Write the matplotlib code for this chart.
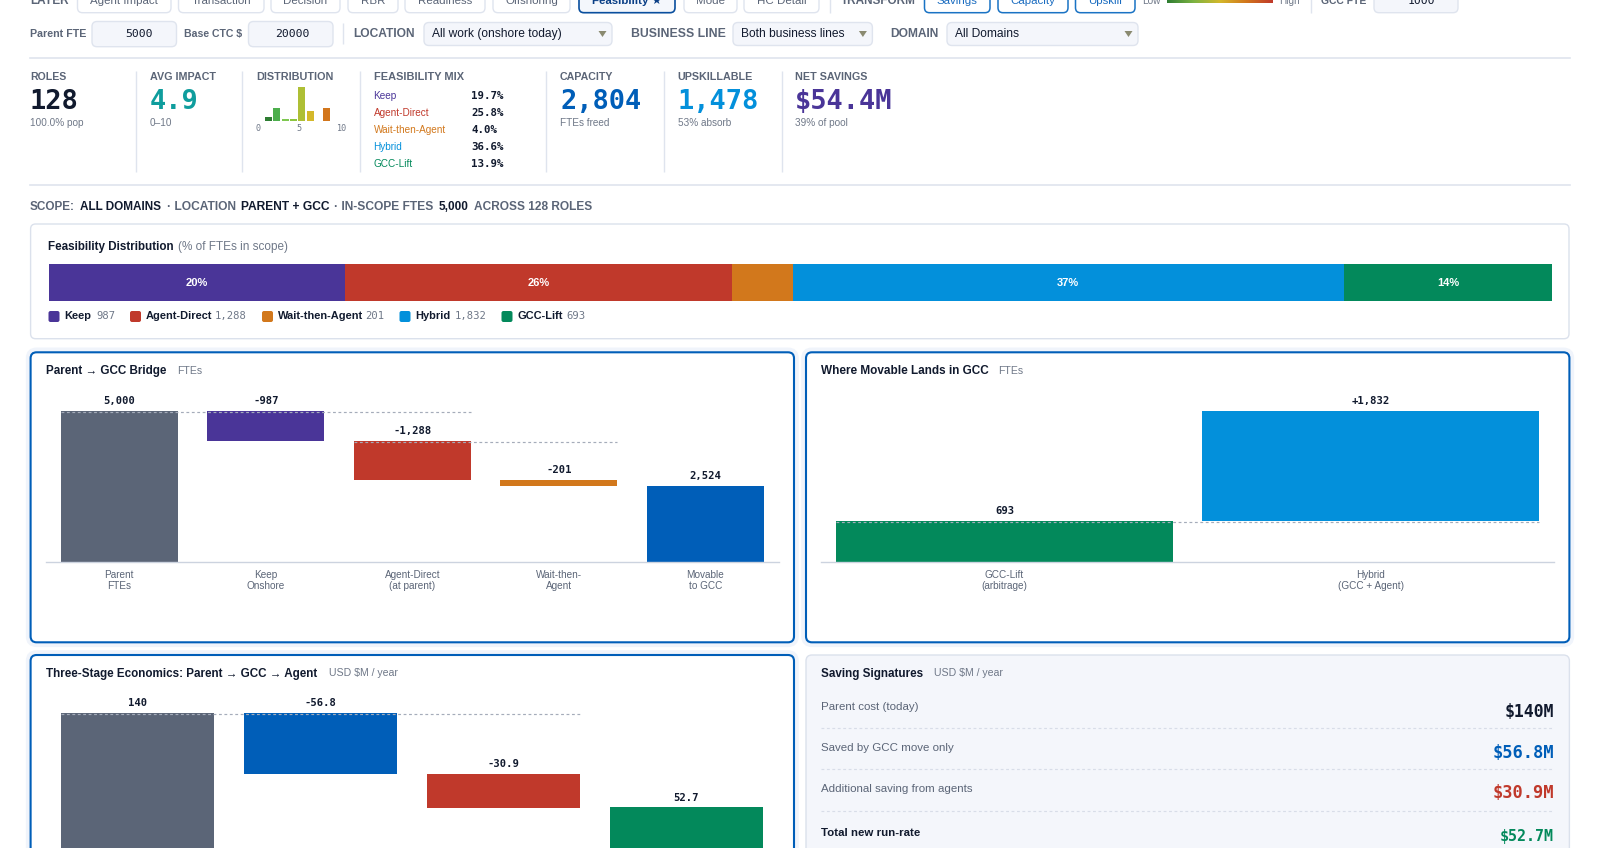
import numpy as np
import matplotlib
matplotlib.use('Agg')
import matplotlib.pyplot as plt
from matplotlib.patches import FancyBboxPatch, Polygon
from matplotlib.colors import LinearSegmentedColormap
from matplotlib.transforms import ScaledTranslation

# ---- data ----
layer_tabs = ['Agent Impact', 'Transaction', 'Decision', 'RBR', 'Readiness', 'Offshoring', 'Feasibility ★', 'Mode', 'HC Detail']
transform_tabs = ['Savings', 'Capacity', 'Upskill']
feas_names = ['Keep', 'Agent-Direct', 'Wait-then-Agent', 'Hybrid', 'GCC-Lift']
feas_ftes = [987, 1288, 201, 1832, 693]
feas_mix = ['19.7%', '25.8%', '4.0%', '36.6%', '13.9%']
hist_bins = [0, 1, 2, 3, 4, 5, 6, 7, 8, 9]
hist_counts = [0, 6, 22, 3, 3, 56, 16, 0, 22, 0]
bridge_labels = ['Parent\nFTEs', 'Keep\nOnshore', 'Agent-Direct\n(at parent)', 'Wait-then-\nAgent', 'Movable\nto GCC']
bridge_start = 5000
bridge_end = 2524
lands_labels = ['GCC-Lift\n(arbitrage)', 'Hybrid\n(GCC + Agent)']
econ_start = 140
econ_gcc = 56.8
econ_agent = 30.9
econ_end = 52.7
sig_labels = ['Parent cost (today)', 'Saved by GCC move only', 'Additional saving from agents', 'Total new run-rate']
sig_values = ['$140M', '$56.8M', '$30.9M', '$52.7M']

# ---- styles ----
W, H = 1600, 848
PUR, RED, ORG, BLU, GRN = '#4a3598', '#c0392b', '#d2781c', '#0390db', '#03895b'
SLATE, DEEP = '#5b6577', '#005eb8'
DARK, GRAY, LGRAY = '#111a2e', '#5b6577', '#6f7888'
LINE, FILL = '#dfe4ee', '#f4f6fb'
feas_colors = [PUR, RED, ORG, BLU, GRN]
hist_colors = ['#2e7d32', '#2e7d32', '#4cae4c', '#7ec850', '#8cc63f', '#aebf35', '#d4b82a', '#d9a520', '#d2761c', '#c0392b']
SANS = ['Liberation Sans', 'DejaVu Sans']
MONO = ['DejaVu Sans Mono']

fig = plt.figure(figsize=(W / 100, H / 100), dpi=100, facecolor='white')
ui = fig.add_axes([0, 0, 1, 1], zorder=0)
ui.set_xlim(0, W)
ui.set_ylim(H, 0)
ui.axis('off')
rend = fig.canvas.get_renderer()


def T(x, y, s, px=11, c=DARK, w='normal', ha='left', va='center', mono=False, fit=None):
    t = ui.text(x, y, s, fontsize=px * 0.72, color=c, fontweight=w, ha=ha, va=va,
                family=MONO if mono else SANS)
    if fit:
        t.set_fontsize(t.get_fontsize() * fit / t.get_window_extent(rend).width)
    return t


def box(x0, y0, x1, y1, fc='white', ec=LINE, lw=1.0, r=5, z=1, alpha=None):
    p = FancyBboxPatch((x0 + r, y0 + r), x1 - x0 - 2 * r, y1 - y0 - 2 * r,
                       boxstyle=f'round,pad={r},rounding_size={r}', fc=fc, ec=ec, lw=lw, zorder=z, alpha=alpha)
    ui.add_patch(p)
    return p


def vline(x, y0, y1, c=LINE, lw=1.0):
    ui.plot([x, x], [y0, y1], color=c, lw=lw, solid_capstyle='butt')


def chart_axes(x0, x1, ytop, ybase, ylim, n):
    ax = fig.add_axes([x0 / W, 1 - ybase / H, (x1 - x0) / W, (ybase - ytop) / H], zorder=2)
    ax.patch.set_alpha(0)
    ax.set_xlim(-0.5, n - 0.5)
    ax.set_ylim(0, ylim)
    for s in ['top', 'left', 'right']:
        ax.spines[s].set_visible(False)
    ax.spines['bottom'].set_color('#ccd3df')
    ax.spines['bottom'].set_linewidth(1.0)
    ax.set_yticks([])
    return ax


def bar_label(ax, i, top, s):
    ax.annotate(s, (i, top), xytext=(0, 7.0), textcoords='offset points', ha='center', va='center',
                fontsize=7.6, color=DARK, family=MONO, fontweight='bold', annotation_clip=False)


def connector(ax, a, b, v, hw):
    tr = ax.transData + ScaledTranslation(0, -1.5 / 100, fig.dpi_scale_trans)
    ax.plot([a - hw, b + hw], [v, v], color='#a5acba', lw=0.85, ls=(0, (2.4, 2.2)),
            transform=tr, clip_on=False, zorder=5)


def set_ticks(ax, labels):
    ax.set_xticks(range(len(labels)))
    ax.set_xticklabels(labels, fontsize=7.2, color=GRAY, family=SANS, linespacing=1.13)
    ax.tick_params(axis='x', length=0, pad=5.8)


# ---- header row 1 (cropped at the top, as in the reference) ----
T(30, 3.5, 'LAYER', px=11, c=GRAY, w='bold', va='baseline', fit=39)
tab_x = [(77.5, 171), (178.5, 264), (271, 340), (348, 398), (405, 485), (493, 570), (579, 675), (684, 737), (744, 819)]
for (a, b), s in zip(tab_x, layer_tabs):
    on = s.startswith('Feas')
    box(a, -20, b, 12.7, fc='white' if not on else '#f4f7fc', ec='#0a4f9e' if on else LINE, lw=1.2 if on else 1.0)
    T((a + b) / 2, 3.5, s, px=11.5, c='#0a3f86' if on else GRAY, w='bold' if on else 'normal', ha='center', va='baseline')
vline(830, -5, 12.7)
T(841, 3.5, 'TRANSFORM', px=11, c=GRAY, w='bold', va='baseline', fit=75)
for (a, b), s in zip([(924.5, 990), (998, 1068), (1075.5, 1135)], transform_tabs):
    box(a, -20, b, 12.7, ec='#1a73c4', lw=1.1)
    T((a + b) / 2, 3.5, s, px=11.5, c='#1a6cc0', ha='center', va='baseline')
T(1142, 3.5, 'Low', px=10, c=LGRAY, va='baseline')
cm = LinearSegmentedColormap.from_list('g', ['#2e7d32', '#7cb342', '#d4b82a', '#d2761c', '#c0392b'])
ui.imshow(np.linspace(0, 1, 256)[None, :], extent=(1167, 1273, 3.3, -8), aspect='auto', cmap=cm, zorder=2)
ui.set_xlim(0, W)
ui.set_ylim(H, 0)
T(1279, 3.5, 'High', px=10, c=LGRAY, va='baseline')
vline(1311, -5, 12.7)
T(1321, 3.5, 'GCC FTE', px=11, c=GRAY, w='bold', va='baseline', fit=46)
box(1374, -20, 1458, 12.7, fc=FILL)
T(1421, 3.5, '1000', px=11.5, ha='center', va='baseline', mono=True)

# ---- header row 2 ----
T(30, 34, 'Parent FTE', px=10.5, c=GRAY, w='bold', fit=56)
box(92, 21.5, 176.5, 46.7, fc=FILL)
T(139, 34, '5000', px=11.5, ha='center', mono=True)
T(184, 34, 'Base CTC $', px=10.5, c=GRAY, w='bold', fit=58)
box(248.5, 21.5, 333, 46.7, fc=FILL)
T(292, 34, '20000', px=11.5, ha='center', mono=True)
vline(343, 23, 44)
for lab, lx, lw_, (a, b), val, tx in [
    ('LOCATION', 353.5, 62.5, (424, 612), 'All work (onshore today)', 432),
    ('BUSINESS LINE', 630.6, 94, (733, 872.4), 'Both business lines', 741),
    ('DOMAIN', 890, 49, (947, 1138), 'All Domains', 955),
]:
    T(lx, 34, lab, px=11, c=GRAY, w='bold', fit=lw_)
    box(a, 22.5, b, 45.5, fc=FILL)
    T(tx, 34, val, px=12, c=DARK)
    ui.add_patch(Polygon([[b - 13.5, 31], [b - 5.5, 31], [b - 9.5, 37]], fc='#8a8a70', ec='none', zorder=3))
ui.plot([30, 1569.5], [58, 58], color=LINE, lw=1.2)

# ---- KPI strip ----
for x in [136, 242.3, 360, 546.4, 664, 781.6]:
    vline(x, 71, 172)
kpis = [(30, 'ROLES', 36, '128', DARK, '100.0% pop'),
        (149.5, 'AVG IMPACT', 66, '4.9', '#0f9d9d', '0–10'),
        (560, 'CAPACITY', 53.5, '2,804', DEEP, 'FTEs freed'),
        (677.5, 'UPSKILLABLE', 75, '1,478', BLU, '53% absorb'),
        (795, 'NET SAVINGS', 72, '$54.4M', PUR, '39% of pool')]
for x, lab, lw_, val, col, sub in kpis:
    T(x, 76.7, lab, px=10, c=GRAY, w='bold', fit=lw_)
    T(x, 102, val, px=27, c=col, w='bold', mono=True)
    T(x, 123, sub, px=10, c=LGRAY)
T(256, 76.7, 'DISTRIBUTION', px=10, c=GRAY, w='bold', fit=77)
T(373.5, 76.7, 'FEASIBILITY MIX', px=10, c=GRAY, w='bold', fit=89)
for y, n, col, v in zip([95.7, 112.7, 129.7, 146.7, 163.7], feas_names, feas_colors, feas_mix):
    T(373.5, y, n, px=10, c=col)
    T(471.4, y, v, px=10.8, c=DARK, w='bold', mono=True)

# histogram sparkline
hx = fig.add_axes([256 / W, 1 - 121 / H, 83.3 / W, 34 / H], zorder=2)
hx.patch.set_alpha(0)
hx.axis('off')
hx.set_xlim(-0.5, 9.5)
hx.set_ylim(0, max(hist_counts))
hx.bar(hist_bins, hist_counts, width=0.86, color=hist_colors)
T(256, 128.5, '0', px=8.5, c=LGRAY, mono=True)
T(299, 128.5, '5', px=8.5, c=LGRAY, ha='center', mono=True)
T(346, 128.5, '10', px=8.5, c=LGRAY, ha='right', mono=True)
ui.plot([30, 1569.5], [185, 185], color=LINE, lw=1.2)

# ---- scope line ----
for x, s, col, wd in [(30, 'SCOPE:', GRAY, 45), (80, 'ALL DOMAINS', DARK, 82), (167.3, '· LOCATION', GRAY, 69),
                      (240.8, 'PARENT + GCC', DARK, 88.3), (334, '· IN-SCOPE FTES', GRAY, 99.5),
                      (438.8, '5,000', DARK, 29.6), (473.5, 'ACROSS 128 ROLES', GRAY, 118.4)]:
    T(x, 207, s, px=10.5, c=col, w='bold', fit=wd)

# ---- stacked distribution ----
box(30.6, 224, 1569, 338.7, ec='#dbe1ec', lw=1.0)
T(48.5, 246.7, 'Feasibility Distribution', px=11.5, w='bold', fit=126)
T(178, 246.7, '(% of FTEs in scope)', px=11.5, c=LGRAY, fit=110)
sx = fig.add_axes([48.5 / W, 1 - 300.7 / H, 1503.5 / W, 36.4 / H], zorder=2)
sx.patch.set_alpha(0)
sx.axis('off')
total = sum(feas_ftes)
sx.set_xlim(0, total)
sx.set_ylim(0, 1)
left = 0
for v, col in zip(feas_ftes, feas_colors):
    sx.barh(0.5, v, left=left, height=1, color=col)
    pct = 100 * v / total
    if pct >= 5:
        sx.text(left + v / 2, 0.5, f'{pct:.0f}%', color='white', fontsize=8.0, fontweight='bold',
                ha='center', va='center', family=SANS)
    left += v
leg = [(48.5, 64.3, 96), (130, 145.4, 214.8), (262, 278, 365), (399.5, 415, 454.6), (501.5, 517.3, 566)]
for (kx, tx, vx), n, v, col in zip(leg, feas_names, feas_ftes, feas_colors):
    box(kx, 311, kx + 11, 322, fc=col, ec='none', lw=0, r=2, z=3)
    T(tx, 316.3, n, px=11, w='bold')
    T(vx, 316.3, f'{v:,}', px=10.5, c=LGRAY, mono=True)

# ---- panel frames ----
for (a, t, b, bt) in [(30.6, 352.3, 794, 642.3), (806, 352.3, 1569.4, 642.3), (30.6, 655, 794, 880)]:
    box(a - 2, t - 2, b + 2, bt + 2, fc='none', ec='#f0f4fb', lw=4, r=8, z=0.5)
    box(a, t, b, bt, ec=DEEP, lw=1.5, r=6, z=1)
box(806, 655, 1569.4, 880, fc=FILL, ec='#dbe1ec', lw=1.0, r=6, z=1)

T(46, 371, 'Parent → GCC Bridge', px=11.5, w='bold', fit=121)
T(177, 371, 'FTEs', px=10.5, c=LGRAY)
T(821.4, 371, 'Where Movable Lands in GCC', px=11.5, w='bold', fit=167)
T(998, 371, 'FTEs', px=10.5, c=LGRAY)
T(46, 673.5, 'Three-Stage Economics: Parent → GCC → Agent', px=11.5, w='bold', fit=272)
T(329, 673.5, 'USD $M / year', px=10.5, c=LGRAY)
T(821.4, 673.5, 'Saving Signatures', px=11.5, w='bold', fit=102)
T(933.7, 673.5, 'USD $M / year', px=10.5, c=LGRAY)

# ---- bridge waterfall ----
ax = chart_axes(46, 778.6, 410.7, 562.3, bridge_start, 5)
keep, direct, wait = feas_ftes[0], feas_ftes[1], feas_ftes[2]
l1 = bridge_start - keep
l2 = l1 - direct
l3 = l2 - wait
hw = 0.4
ax.bar([0, 1, 2, 3, 4], [bridge_start, keep, direct, wait, bridge_end],
       bottom=[0, l1, l2, l3, 0], width=2 * hw, color=[SLATE, PUR, RED, ORG, DEEP])
for i, top, s in [(0, bridge_start, f'{bridge_start:,}'), (1, bridge_start, f'-{keep:,}'), (2, l1, f'-{direct:,}'),
                  (3, l2, f'-{wait:,}'), (4, bridge_end, f'{bridge_end:,}')]:
    bar_label(ax, i, top, s)
connector(ax, 0, 2, bridge_start, hw)
connector(ax, 2, 3, l1, hw)
set_ticks(ax, bridge_labels)

# ---- where movable lands ----
lift, hybrid = feas_ftes[4], feas_ftes[3]
ax = chart_axes(821.4, 1554, 410.7, 562.3, lift + hybrid, 2)
hw = 0.46
ax.bar([0, 1], [lift, hybrid], bottom=[0, lift], width=2 * hw, color=[GRN, BLU])
bar_label(ax, 0, lift, f'{lift:,}')
bar_label(ax, 1, lift + hybrid, f'+{hybrid:,}')
connector(ax, 0, 1, lift, hw)
set_ticks(ax, lands_labels)

# ---- three-stage economics (bottom runs past the canvas) ----
ax = chart_axes(46, 778, 712.7, 864.3, econ_start, 4)
hw = 0.418
after_gcc = econ_start - econ_gcc
after_agent = after_gcc - econ_agent
ax.bar([0, 1, 2, 3], [econ_start, econ_gcc, econ_agent, econ_end], bottom=[0, after_gcc, after_agent, 0],
       width=2 * hw, color=[SLATE, DEEP, RED, GRN])
for i, top, s in [(0, econ_start, f'{econ_start}'), (1, econ_start, f'-{econ_gcc}'),
                  (2, after_gcc, f'-{econ_agent}'), (3, econ_end, f'{econ_end}')]:
    bar_label(ax, i, top, s)
connector(ax, 0, 2, econ_start, hw)
ax.set_xticks([])

# ---- saving signatures ----
for ly, vy, n, v, col, px in zip([706.7, 747.7, 788.7, 833.3], [711.7, 752.7, 793.3, 836],
                                 sig_labels, sig_values, [DARK, DEEP, RED, GRN], [16.5, 17, 17, 15]):
    last = n.startswith('Total')
    T(821.4, ly, n, px=11.5, c=DARK if last else GRAY, w='bold' if last else 'normal')
    T(1554, vy, v, px=px, c=col, w='bold', ha='right', mono=True)
for y in [728.3, 769.3, 810.7]:
    ui.plot([821.4, 1554], [y, y], color='#d8dde8', lw=0.85, ls=(0, (2.4, 2.2)))

ui.set_xlim(0, W)
ui.set_ylim(H, 0)
fig.savefig('out.png', dpi=100)
